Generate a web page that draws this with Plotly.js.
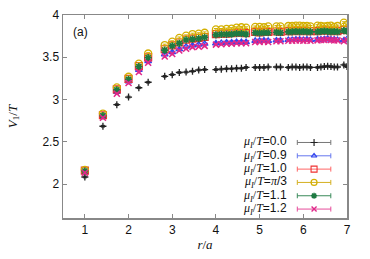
<!DOCTYPE html>
<html>
<head>
<meta charset="utf-8">
<script src="https://cdn.plot.ly/plotly-3.0.1.min.js"></script>
<style>html,body{margin:0;padding:0;background:#fff;}#chart{width:370px;height:259px;}</style>
</head>
<body>
<div id="chart"></div>
<script>
// r/a values (lattice distances)
const rOverA = [1, 1.414, 1.732, 2, 2.236, 2.449, 2.828, 3, 3.162, 3.317, 3.464, 3.606, 3.742,
  4, 4.123, 4.243, 4.359, 4.472, 4.583, 4.690,
  4.899, 5, 5.099, 5.196,
  5.385, 5.477,
  5.657, 5.745, 5.831, 5.916, 6, 6.083, 6.164,
  6.325, 6.403, 6.481, 6.557, 6.633, 6.708, 6.782,
  6.928, 7];

const mu00 = [2.085, 2.685, 2.94, 3.03, 3.14, 3.205, 3.275, 3.295, 3.32, 3.325, 3.335, 3.35, 3.355,
  3.355, 3.36, 3.365, 3.365, 3.37, 3.37, 3.38,
  3.38, 3.38, 3.38, 3.385,
  3.385, 3.385,
  3.38, 3.385, 3.385, 3.38, 3.385, 3.385, 3.38,
  3.38, 3.385, 3.39, 3.395, 3.39, 3.385, 3.385,
  3.41, 3.39];

const mu09 = [2.145, 2.795, 3.09, 3.215, 3.35, 3.455, 3.535, 3.56, 3.595, 3.625, 3.64, 3.65, 3.66,
  3.665, 3.67, 3.675, 3.675, 3.68, 3.68, 3.68,
  3.695, 3.695, 3.7, 3.695,
  3.7, 3.7,
  3.705, 3.705, 3.71, 3.71, 3.705, 3.71, 3.705,
  3.71, 3.71, 3.715, 3.72, 3.71, 3.71, 3.705,
  3.7, 3.715];

const mu10 = [2.16, 2.815, 3.12, 3.245, 3.395, 3.5, 3.595, 3.64, 3.675, 3.71, 3.72, 3.73, 3.74,
  3.775, 3.78, 3.78, 3.785, 3.79, 3.79, 3.785,
  3.8, 3.795, 3.8, 3.8,
  3.805, 3.8,
  3.81, 3.81, 3.815, 3.81, 3.815, 3.81, 3.81,
  3.81, 3.815, 3.82, 3.815, 3.81, 3.815, 3.81,
  3.825, 3.82];

const muPi3 = [2.17, 2.835, 3.145, 3.27, 3.425, 3.545, 3.645, 3.685, 3.73, 3.755, 3.775, 3.78, 3.79,
  3.83, 3.83, 3.835, 3.84, 3.85, 3.855, 3.85,
  3.86, 3.86, 3.855, 3.865,
  3.865, 3.865,
  3.87, 3.87, 3.875, 3.875, 3.87, 3.87, 3.865,
  3.875, 3.87, 3.865, 3.87, 3.875, 3.86, 3.87,
  3.91, 3.88];

const mu11 = [2.155, 2.81, 3.115, 3.24, 3.39, 3.495, 3.585, 3.635, 3.665, 3.705, 3.715, 3.72, 3.735,
  3.765, 3.77, 3.77, 3.775, 3.78, 3.78, 3.775,
  3.79, 3.785, 3.79, 3.79,
  3.795, 3.79,
  3.8, 3.8, 3.805, 3.8, 3.805, 3.8, 3.8,
  3.8, 3.805, 3.81, 3.805, 3.8, 3.805, 3.8,
  3.815, 3.81];

const mu12 = [2.135, 2.785, 3.07, 3.195, 3.325, 3.435, 3.51, 3.54, 3.58, 3.6, 3.62, 3.625, 3.635,
  3.65, 3.655, 3.66, 3.66, 3.665, 3.665, 3.665,
  3.68, 3.68, 3.685, 3.68,
  3.69, 3.69,
  3.695, 3.695, 3.7, 3.7, 3.695, 3.7, 3.695,
  3.7, 3.705, 3.705, 3.71, 3.705, 3.7, 3.7,
  3.69, 3.705];

const seriesLabels = ['0.0', '0.9', '1.0', 'π/3', '1.1', '1.2'];
const seriesValues = [mu00, mu09, mu10, muPi3, mu11, mu12];
const seriesErr = [0.01, 0.01, 0.01, 0.01, 0.01, 0.01];

const xTicks = [1, 2, 3, 4, 5, 6, 7];
const yTicks = [2, 2.5, 3, 3.5, 4];

const styles = [
  {color: '#222222', bar: '#777777', symbol: 'cross-thin-open', size: 5, lw: 1.3},
  {color: '#3344ee', bar: '#6677ee', symbol: 'triangle-up-open', size: 6, lw: 1.2},
  {color: '#f03030', bar: '#ff6666', symbol: 'square-open', size: 7, lw: 1.2},
  {color: '#d4b000', bar: '#d4b020', symbol: 'circle-open', size: 7, lw: 1.3},
  {color: '#1e7a42', bar: '#3a8a5a', symbol: 'asterisk-open', size: 6, lw: 1.6},
  {color: '#e0288a', bar: '#e64c9a', symbol: 'x-thin-open', size: 6, lw: 1.5}
];

const serif = 'Liberation Serif, serif';
const sans = 'Liberation Sans, Arial, sans-serif';

const traces = [];
seriesValues.forEach((vals, i) => {
  const s = styles[i];
  traces.push({
    type: 'scatter', mode: 'markers', x: rOverA, y: vals,
    marker: {symbol: s.symbol, size: s.size, color: s.color, line: {color: s.color, width: s.lw}},
    error_y: {type: 'constant', value: seriesErr[i], color: s.color, thickness: 1, width: 2},
    showlegend: false, hoverinfo: 'skip'
  });
});

// key (legend) drawn gnuplot-style: text left, sample right
const keyX = 0.884, keyY0 = 0.372, keyStep = 0.0656, keyHalf = 0.059, keyTextX = 0.797;
const annotations = [{
  text: '(a)', xref: 'paper', yref: 'paper', x: 0.028, y: 0.918,
  xanchor: 'left', yanchor: 'middle', showarrow: false,
  font: {family: sans, size: 12, color: '#111'}
}];
seriesLabels.forEach((lab, i) => {
  const s = styles[i];
  const yy = keyY0 - i * keyStep;
  traces.push({
    type: 'scatter', mode: 'markers', x: [keyX], y: [yy], xaxis: 'x2', yaxis: 'y2',
    marker: {symbol: s.symbol, size: Math.max(s.size - 1, 5), color: s.color, line: {color: s.color, width: s.lw * 0.9}},
    error_x: {type: 'constant', value: keyHalf, color: s.bar, thickness: 1, width: 2.5},
    showlegend: false, hoverinfo: 'skip'
  });
  const labTxt = lab === 'π/3' ? '<span style="font-family:' + serif + '"><i>π</i></span>/3' : lab;
  annotations.push({
    xref: 'x2', yref: 'y2', x: keyTextX, y: yy, xanchor: 'right', yanchor: 'middle',
    showarrow: false, align: 'right',
    text: '<span style="font-family:' + serif + '"><i>μ</i><sub><i>I</i></sub>/<i>T</i></span>=' + labTxt,
    font: {family: sans, size: 12, color: '#111'}
  });
});

const axisCommon = {
  showgrid: false, zeroline: false, showline: true, linecolor: '#888', linewidth: 1.5,
  mirror: 'ticks', ticks: 'inside', ticklen: 4, tickwidth: 1, tickcolor: '#888',
  tickfont: {family: sans, size: 12, color: '#111'}
};

const layout = {
  width: 370, height: 259,
  margin: {l: 63, r: 23, t: 15, b: 41, pad: 0},
  paper_bgcolor: '#fff', plot_bgcolor: '#fff',
  showlegend: false,
  xaxis: Object.assign({}, axisCommon, {
    range: [0.5, 7], tickvals: xTicks, ticktext: xTicks.map(String),
    title: {text: '<i>r</i>/<i>a</i>', font: {family: serif, size: 13, color: '#111'}, standoff: 4}
  }),
  yaxis: Object.assign({}, axisCommon, {
    range: [1.6, 4], tickvals: yTicks, ticktext: yTicks.map(String),
    title: {text: '<i>V</i><sub>1</sub>/<i>T</i>', font: {family: serif, size: 13, color: '#111'}, standoff: 22}
  }),
  xaxis2: {overlaying: 'x', range: [0, 1], visible: false, fixedrange: true},
  yaxis2: {overlaying: 'y', range: [0, 1], visible: false, fixedrange: true},
  annotations: annotations
};

Plotly.newPlot('chart', traces, layout, {staticPlot: true, displayModeBar: false});
</script>
</body>
</html>
